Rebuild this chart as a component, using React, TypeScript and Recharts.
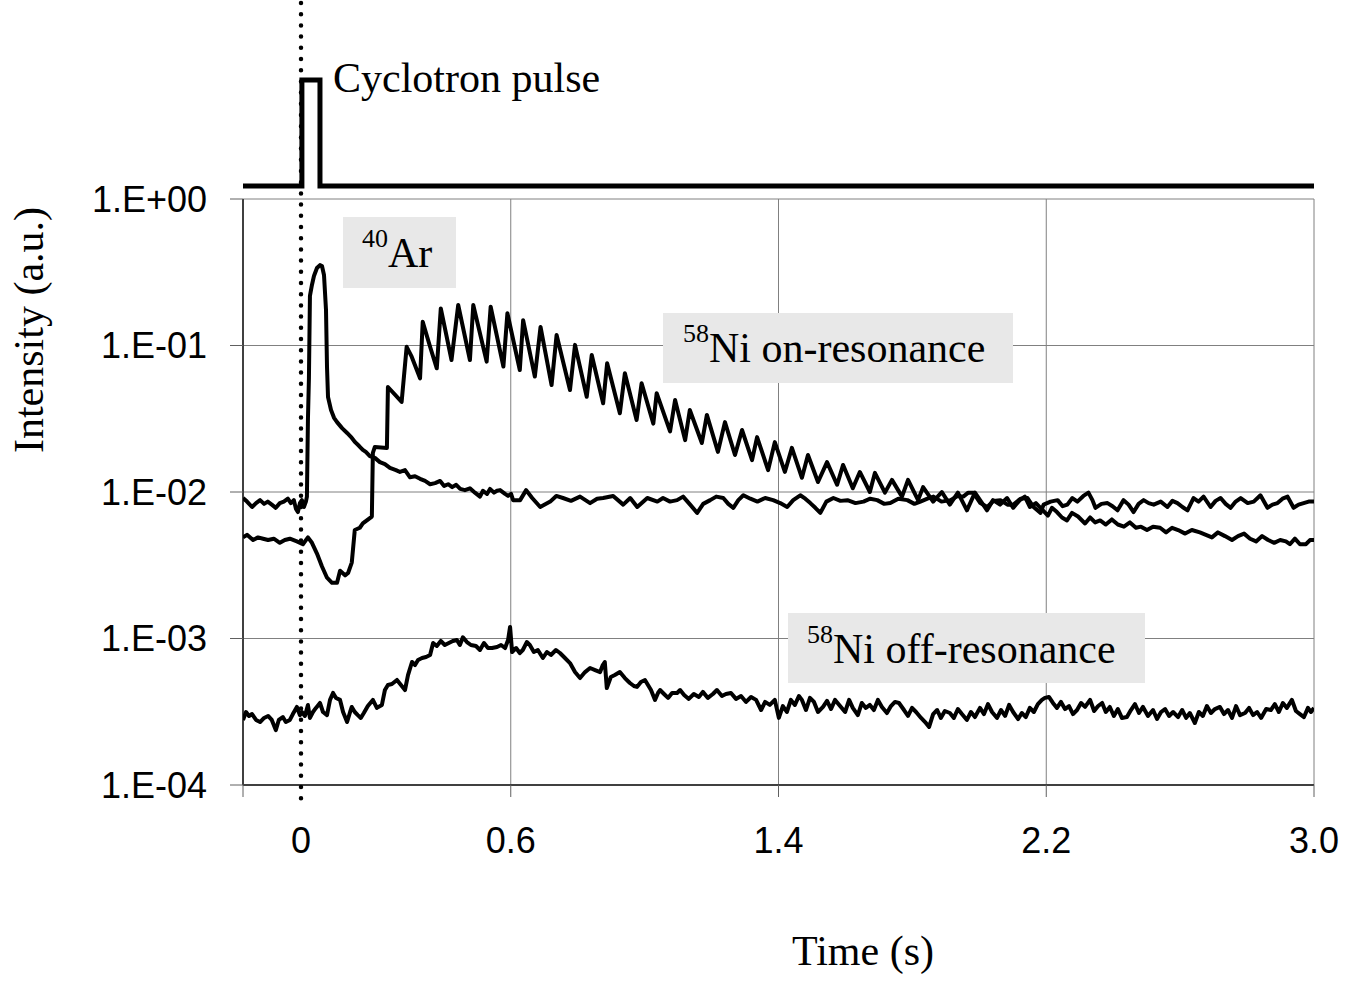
import React from 'react';
import { LineChart, Line, XAxis, YAxis, ReferenceLine } from 'recharts';

// time (s), intensity (a.u.)
const cyclotronPulse: [number, number][] = [
  [-0.2, 1.227], [-0.024, 1.227], [-0.024, 6.49], [0.03, 6.49], [0.03, 1.227], [3.0, 1.227],
];

const argon40: [number, number][] = [
  [-0.2, 0.0091], [-0.188, 0.0086], [-0.173, 0.0079], [-0.161, 0.0084], [-0.149, 0.0088], [-0.137, 0.0083],
  [-0.126, 0.0086], [-0.114, 0.0082], [-0.102, 0.0078], [-0.09, 0.0084], [-0.078, 0.0086], [-0.066, 0.009],
  [-0.057, 0.0084], [-0.048, 0.0088], [-0.042, 0.0077], [-0.036, 0.0073], [-0.03, 0.0084], [-0.024, 0.0088],
  [-0.018, 0.0079], [-0.012, 0.0086], [-0.009, 0.0093], [-0.006, 0.031], [-0.003, 0.06], [0.0, 0.218],
  [0.006, 0.259], [0.012, 0.298], [0.021, 0.338], [0.03, 0.354], [0.036, 0.349], [0.042, 0.303],
  [0.048, 0.175], [0.051, 0.0713], [0.054, 0.0445], [0.063, 0.0363], [0.072, 0.0321], [0.081, 0.03],
  [0.096, 0.0273], [0.111, 0.0253], [0.123, 0.0237], [0.135, 0.0219], [0.147, 0.0206], [0.158, 0.0194],
  [0.167, 0.0188], [0.179, 0.0176], [0.194, 0.0171], [0.209, 0.016], [0.224, 0.0155], [0.239, 0.0146],
  [0.257, 0.0141], [0.269, 0.0137], [0.284, 0.0141], [0.299, 0.0126], [0.314, 0.0128], [0.329, 0.0123],
  [0.344, 0.0119], [0.359, 0.0113], [0.374, 0.0115], [0.389, 0.0119], [0.401, 0.011], [0.413, 0.0113],
  [0.425, 0.0108], [0.437, 0.0112], [0.449, 0.0105], [0.463, 0.0103], [0.478, 0.0106], [0.493, 0.0099],
  [0.508, 0.0093], [0.517, 0.0102], [0.529, 0.0097], [0.538, 0.0105], [0.55, 0.0099], [0.559, 0.0102],
  [0.568, 0.0103], [0.583, 0.0097], [0.592, 0.0094], [0.601, 0.0097], [0.607, 0.0088], [0.628, 0.0088],
  [0.646, 0.0103], [0.664, 0.0091], [0.688, 0.0079], [0.718, 0.0086], [0.736, 0.0094], [0.756, 0.0091],
  [0.78, 0.0087], [0.807, 0.0093], [0.837, 0.0084], [0.858, 0.009], [0.876, 0.0091], [0.906, 0.0094],
  [0.936, 0.0082], [0.957, 0.0091], [0.978, 0.0079], [1.008, 0.0091], [1.038, 0.0086], [1.055, 0.0091],
  [1.076, 0.0086], [1.097, 0.0088], [1.115, 0.0093], [1.136, 0.0082], [1.157, 0.0072], [1.175, 0.0083],
  [1.196, 0.0088], [1.214, 0.0093], [1.235, 0.0091], [1.25, 0.0083], [1.265, 0.0078], [1.28, 0.0088],
  [1.295, 0.0095], [1.316, 0.009], [1.337, 0.0086], [1.36, 0.0091], [1.384, 0.0088], [1.405, 0.0084],
  [1.426, 0.0079], [1.444, 0.0088], [1.465, 0.0095], [1.48, 0.009], [1.495, 0.0084], [1.51, 0.0078],
  [1.525, 0.0072], [1.543, 0.0086], [1.564, 0.0091], [1.585, 0.0087], [1.606, 0.0088], [1.63, 0.0084],
  [1.654, 0.0086], [1.674, 0.009], [1.695, 0.0088], [1.716, 0.0083], [1.734, 0.0084], [1.758, 0.009],
  [1.785, 0.0088], [1.806, 0.0083], [1.824, 0.0086], [1.845, 0.009], [1.863, 0.0093], [1.887, 0.0086],
  [1.914, 0.0088], [1.935, 0.0094], [1.952, 0.0093], [1.967, 0.0099], [1.982, 0.0099], [2.003, 0.0084],
  [2.024, 0.0079], [2.042, 0.0087], [2.063, 0.0088], [2.084, 0.0082], [2.102, 0.0082], [2.123, 0.009],
  [2.144, 0.0091], [2.162, 0.0079], [2.183, 0.0072], [2.192, 0.0082], [2.213, 0.0086], [2.234, 0.0088],
  [2.249, 0.008], [2.263, 0.0082], [2.278, 0.0091], [2.293, 0.0086], [2.311, 0.0094], [2.326, 0.0099],
  [2.338, 0.0088], [2.347, 0.0078], [2.365, 0.0083], [2.383, 0.0084], [2.398, 0.008], [2.413, 0.0075],
  [2.431, 0.0088], [2.446, 0.0082], [2.461, 0.0073], [2.476, 0.0083], [2.491, 0.0088], [2.506, 0.0084],
  [2.521, 0.0082], [2.542, 0.0086], [2.562, 0.0079], [2.577, 0.0087], [2.592, 0.0084], [2.607, 0.0079],
  [2.622, 0.0075], [2.64, 0.0091], [2.655, 0.0086], [2.67, 0.0093], [2.691, 0.0079], [2.706, 0.0087],
  [2.721, 0.0091], [2.736, 0.0083], [2.751, 0.0078], [2.766, 0.0086], [2.781, 0.0091], [2.802, 0.0084],
  [2.82, 0.0086], [2.84, 0.0095], [2.861, 0.0078], [2.876, 0.0082], [2.891, 0.0084], [2.906, 0.009],
  [2.921, 0.0093], [2.939, 0.0078], [2.954, 0.0082], [2.969, 0.0084], [2.984, 0.0086], [3.0, 0.0086],
];

const nickelOnResonance: [number, number][] = [
  [-0.2, 0.0049], [-0.188, 0.0051], [-0.17, 0.0047], [-0.155, 0.0049], [-0.14, 0.0048], [-0.125, 0.0047],
  [-0.108, 0.0048], [-0.09, 0.0045], [-0.075, 0.0047], [-0.06, 0.0048], [-0.039, 0.0046], [-0.021, 0.0044],
  [-0.006, 0.0049], [0.006, 0.0045], [0.021, 0.0038], [0.036, 0.0031], [0.051, 0.0026], [0.066, 0.0024],
  [0.081, 0.0024], [0.09, 0.0029], [0.105, 0.0027], [0.114, 0.0028], [0.125, 0.0033], [0.134, 0.0055],
  [0.149, 0.0057], [0.158, 0.0061], [0.185, 0.0068], [0.188, 0.0185], [0.194, 0.0203], [0.23, 0.02],
  [0.233, 0.0521], [0.274, 0.0412], [0.289, 0.098], [0.304, 0.0839], [0.329, 0.0597], [0.337, 0.145],
  [0.359, 0.098], [0.379, 0.0699], [0.391, 0.179], [0.423, 0.0796], [0.443, 0.189], [0.478, 0.0796],
  [0.488, 0.189], [0.528, 0.0776], [0.54, 0.184], [0.578, 0.0718], [0.59, 0.166], [0.627, 0.068],
  [0.637, 0.149], [0.672, 0.0614], [0.689, 0.134], [0.722, 0.0537], [0.737, 0.118], [0.777, 0.0497],
  [0.792, 0.101], [0.827, 0.0447], [0.842, 0.0861], [0.876, 0.0403], [0.888, 0.0757], [0.926, 0.0345],
  [0.941, 0.0647], [0.976, 0.031], [0.991, 0.0553], [1.026, 0.0293], [1.036, 0.0473], [1.076, 0.0259],
  [1.091, 0.0425], [1.121, 0.0226], [1.135, 0.0363], [1.171, 0.0216], [1.186, 0.0336], [1.219, 0.0188],
  [1.24, 0.03], [1.27, 0.0179], [1.291, 0.0265], [1.321, 0.0165], [1.336, 0.0237], [1.369, 0.0141],
  [1.389, 0.0219], [1.419, 0.0137], [1.44, 0.02], [1.47, 0.0125], [1.488, 0.0179], [1.518, 0.0117],
  [1.545, 0.016], [1.575, 0.0112], [1.593, 0.0153], [1.622, 0.0106], [1.643, 0.0137], [1.673, 0.01],
  [1.688, 0.0135], [1.718, 0.0099], [1.739, 0.0121], [1.769, 0.0093], [1.787, 0.0121], [1.817, 0.0088],
  [1.832, 0.0108], [1.862, 0.0086], [1.888, 0.01], [1.912, 0.0082], [1.936, 0.0099], [1.963, 0.0075],
  [1.987, 0.0099], [2.023, 0.0075], [2.041, 0.0088], [2.062, 0.0082], [2.083, 0.0091], [2.101, 0.0078],
  [2.121, 0.0088], [2.136, 0.0093], [2.151, 0.0079], [2.169, 0.0084], [2.19, 0.0075], [2.205, 0.0069],
  [2.217, 0.0078], [2.232, 0.0073], [2.247, 0.0067], [2.262, 0.0064], [2.277, 0.0072], [2.295, 0.0068],
  [2.316, 0.0061], [2.331, 0.0067], [2.346, 0.0062], [2.361, 0.0064], [2.378, 0.006], [2.396, 0.0065],
  [2.414, 0.006], [2.432, 0.0058], [2.45, 0.0062], [2.468, 0.0057], [2.483, 0.0058], [2.501, 0.0055],
  [2.519, 0.0058], [2.54, 0.0057], [2.558, 0.0053], [2.576, 0.0057], [2.594, 0.0055], [2.615, 0.0052],
  [2.635, 0.0055], [2.659, 0.0053], [2.677, 0.0051], [2.695, 0.0049], [2.713, 0.0053], [2.734, 0.005],
  [2.755, 0.0047], [2.773, 0.005], [2.791, 0.0052], [2.809, 0.0048], [2.827, 0.0046], [2.845, 0.005],
  [2.863, 0.0047], [2.881, 0.0045], [2.899, 0.0047], [2.916, 0.0046], [2.928, 0.0044], [2.943, 0.0048],
  [2.958, 0.0044], [2.976, 0.0044], [2.988, 0.0047], [3.0, 0.0047],
];

const nickelOffResonance: [number, number][] = [
  [-0.2, 2.78e-4], [-0.191, 3.15e-4], [-0.182, 2.96e-4], [-0.173, 3.05e-4], [-0.161, 2.78e-4], [-0.149, 2.69e-4],
  [-0.137, 2.87e-4], [-0.125, 2.96e-4], [-0.114, 2.78e-4], [-0.102, 2.37e-4], [-0.093, 2.78e-4], [-0.081, 2.91e-4],
  [-0.072, 2.69e-4], [-0.06, 2.78e-4], [-0.051, 3.05e-4], [-0.039, 3.41e-4], [-0.03, 3.0e-4], [-0.024, 3.15e-4],
  [-0.015, 2.96e-4], [-0.006, 3.52e-4], [0.0, 2.87e-4], [0.009, 3.15e-4], [0.018, 3.36e-4], [0.03, 3.63e-4],
  [0.039, 3.15e-4], [0.051, 3.0e-4], [0.06, 3.81e-4], [0.069, 4.25e-4], [0.078, 3.93e-4], [0.09, 3.81e-4],
  [0.099, 3.15e-4], [0.111, 2.69e-4], [0.12, 3.15e-4], [0.125, 3.41e-4], [0.134, 3.15e-4], [0.143, 3.0e-4],
  [0.152, 2.87e-4], [0.161, 3.1e-4], [0.173, 3.46e-4], [0.188, 3.81e-4], [0.2, 3.36e-4], [0.215, 3.52e-4],
  [0.224, 4.45e-4], [0.233, 4.82e-4], [0.245, 4.89e-4], [0.26, 5.21e-4], [0.272, 4.82e-4], [0.284, 4.45e-4],
  [0.293, 5.63e-4], [0.305, 6.91e-4], [0.314, 6.59e-4], [0.323, 7.13e-4], [0.335, 7.36e-4], [0.347, 7.48e-4],
  [0.359, 7.72e-4], [0.368, 9.32e-4], [0.379, 8.89e-4], [0.391, 9.62e-4], [0.403, 9.03e-4], [0.415, 9.32e-4],
  [0.427, 9.62e-4], [0.439, 9.77e-4], [0.448, 9.03e-4], [0.457, 1.02e-3], [0.469, 9.46e-4], [0.481, 9.03e-4],
  [0.496, 8.89e-4], [0.508, 8.35e-4], [0.52, 9.32e-4], [0.532, 8.61e-4], [0.544, 8.61e-4], [0.559, 8.75e-4],
  [0.571, 9.03e-4], [0.583, 8.61e-4], [0.592, 9.77e-4], [0.598, 1.2e-3], [0.604, 8.09e-4], [0.616, 8.61e-4],
  [0.627, 7.96e-4], [0.636, 8.35e-4], [0.648, 9.46e-4], [0.657, 9.03e-4], [0.669, 8.09e-4], [0.681, 8.35e-4],
  [0.696, 7.36e-4], [0.708, 8.09e-4], [0.72, 7.72e-4], [0.735, 8.35e-4], [0.747, 7.96e-4], [0.762, 7.36e-4],
  [0.777, 6.8e-4], [0.792, 5.9e-4], [0.807, 5.37e-4], [0.822, 5.9e-4], [0.837, 6.29e-4], [0.852, 6.09e-4],
  [0.867, 5.9e-4], [0.875, 6.59e-4], [0.881, 6.91e-4], [0.887, 4.59e-4], [0.899, 5.46e-4], [0.911, 5.63e-4],
  [0.926, 5.9e-4], [0.941, 5.37e-4], [0.956, 4.97e-4], [0.968, 4.74e-4], [0.977, 4.67e-4], [0.989, 5.05e-4],
  [1.001, 5.21e-4], [1.01, 4.82e-4], [1.019, 4.45e-4], [1.031, 3.81e-4], [1.04, 4.25e-4], [1.046, 4.45e-4],
  [1.058, 4.18e-4], [1.07, 3.93e-4], [1.082, 4.25e-4], [1.097, 4.25e-4], [1.106, 4.45e-4], [1.118, 4.12e-4],
  [1.132, 3.87e-4], [1.147, 4.18e-4], [1.162, 3.99e-4], [1.174, 4.32e-4], [1.189, 3.93e-4], [1.204, 4.18e-4],
  [1.216, 4.45e-4], [1.231, 4.05e-4], [1.243, 4.18e-4], [1.258, 4.25e-4], [1.273, 3.87e-4], [1.288, 4.05e-4],
  [1.303, 3.69e-4], [1.318, 3.99e-4], [1.333, 3.81e-4], [1.348, 3.25e-4], [1.36, 3.69e-4], [1.374, 3.52e-4],
  [1.389, 3.81e-4], [1.401, 2.87e-4], [1.413, 3.46e-4], [1.425, 3.15e-4], [1.437, 3.81e-4], [1.449, 3.52e-4],
  [1.461, 4.05e-4], [1.47, 3.81e-4], [1.482, 3.25e-4], [1.494, 3.93e-4], [1.506, 3.69e-4], [1.518, 3.15e-4],
  [1.533, 3.41e-4], [1.545, 3.75e-4], [1.557, 3.3e-4], [1.569, 3.81e-4], [1.584, 3.46e-4], [1.599, 3.15e-4],
  [1.611, 3.81e-4], [1.622, 3.36e-4], [1.637, 3.0e-4], [1.649, 3.63e-4], [1.661, 3.36e-4], [1.673, 3.52e-4],
  [1.685, 3.25e-4], [1.697, 3.81e-4], [1.709, 3.41e-4], [1.724, 3.1e-4], [1.736, 3.46e-4], [1.748, 3.69e-4],
  [1.76, 3.63e-4], [1.775, 3.25e-4], [1.787, 2.96e-4], [1.799, 3.36e-4], [1.811, 3.15e-4], [1.826, 2.87e-4],
  [1.838, 2.69e-4], [1.85, 2.49e-4], [1.862, 3.05e-4], [1.874, 3.25e-4], [1.885, 2.87e-4], [1.897, 3.2e-4],
  [1.912, 3.1e-4], [1.924, 2.87e-4], [1.936, 3.3e-4], [1.948, 3.05e-4], [1.963, 2.78e-4], [1.975, 3.15e-4],
  [1.987, 2.91e-4], [2.002, 3.36e-4], [2.014, 3.05e-4], [2.026, 3.57e-4], [2.038, 3.15e-4], [2.053, 2.87e-4],
  [2.065, 3.25e-4], [2.077, 2.96e-4], [2.089, 3.52e-4], [2.101, 3.15e-4], [2.116, 2.82e-4], [2.127, 3.1e-4],
  [2.139, 2.91e-4], [2.151, 3.36e-4], [2.163, 3.15e-4], [2.175, 3.57e-4], [2.187, 3.81e-4], [2.196, 3.93e-4],
  [2.208, 3.99e-4], [2.22, 3.63e-4], [2.232, 3.36e-4], [2.244, 3.69e-4], [2.256, 3.3e-4], [2.268, 3.46e-4],
  [2.28, 3.05e-4], [2.292, 3.25e-4], [2.304, 3.63e-4], [2.316, 3.41e-4], [2.331, 3.81e-4], [2.343, 3.2e-4],
  [2.355, 3.46e-4], [2.367, 3.63e-4], [2.378, 3.15e-4], [2.39, 3.41e-4], [2.402, 2.96e-4], [2.414, 3.3e-4],
  [2.426, 2.87e-4], [2.441, 2.91e-4], [2.453, 3.25e-4], [2.465, 3.57e-4], [2.477, 3.1e-4], [2.489, 3.41e-4],
  [2.504, 2.96e-4], [2.519, 3.25e-4], [2.531, 2.82e-4], [2.543, 3.15e-4], [2.555, 3.3e-4], [2.567, 2.96e-4],
  [2.579, 3.15e-4], [2.594, 2.91e-4], [2.606, 3.25e-4], [2.618, 2.87e-4], [2.629, 3.1e-4], [2.644, 2.65e-4],
  [2.656, 3.15e-4], [2.668, 2.96e-4], [2.68, 3.46e-4], [2.692, 3.1e-4], [2.704, 3.3e-4], [2.719, 3.41e-4],
  [2.731, 3.05e-4], [2.743, 3.25e-4], [2.755, 2.87e-4], [2.767, 3.46e-4], [2.779, 3.0e-4], [2.794, 3.1e-4],
  [2.806, 3.36e-4], [2.818, 3.0e-4], [2.83, 3.15e-4], [2.842, 2.87e-4], [2.857, 3.3e-4], [2.871, 3.25e-4],
  [2.883, 3.57e-4], [2.895, 3.15e-4], [2.907, 3.63e-4], [2.919, 3.36e-4], [2.934, 3.81e-4], [2.946, 3.2e-4],
  [2.958, 3.05e-4], [2.97, 2.91e-4], [2.982, 3.36e-4], [2.991, 3.15e-4], [3.0, 3.36e-4],
];

const xTicks = [-0.2, 0.6, 1.4, 2.2, 3.0];
const xGridLines = [0.6, 1.4, 2.2, 3.0];
const yTicks = [1e-4, 1e-3, 1e-2, 1e-1, 1];

const toRows = (pts: [number, number][]) => pts.map(([t, v]) => ({ t, v }));

const SANS = '"Liberation Sans", Arial, sans-serif';
const SERIF = '"Liberation Serif", "Times New Roman", serif';
const GRID = '#808080';
const AXIS = '#404040';

const fmtY = (v: number) => {
  const e = Math.round(Math.log10(v));
  return `1.E${e >= 0 ? '+' : '-'}${String(Math.abs(e)).padStart(2, '0')}`;
};

export default function App() {
  return (
    <div style={{ position: 'absolute', left: 0, top: 0, width: 1354, height: 982, background: '#fff' }}>
      <LineChart width={1354} height={982} margin={{ top: 60, right: 40, bottom: 97, left: 0 }}>
        <XAxis
          type="number"
          dataKey="t"
          domain={[-0.2, 3.0]}
          allowDataOverflow
          ticks={xTicks}
          interval={0}
          height={100}
          tickSize={12}
          tickMargin={30}
          tickFormatter={(v: number) => (v < 0 ? '' : v.toFixed(1))}
          axisLine={{ stroke: AXIS, strokeWidth: 2 }}
          tickLine={{ stroke: '#606060' }}
          tick={{ fontSize: 36, fill: '#000', fontFamily: SANS }}
        />
        <YAxis
          type="number"
          scale="log"
          domain={[1e-4, 8.89]}
          allowDataOverflow
          ticks={yTicks}
          interval={0}
          width={243}
          tickSize={13}
          tickMargin={23}
          tickFormatter={fmtY}
          axisLine={false}
          tickLine={{ stroke: '#606060' }}
          tick={{ fontSize: 36, fill: '#000', fontFamily: SANS }}
        />
        {yTicks.slice(1).map((y) => (
          <ReferenceLine key={`h${y}`} y={y} stroke={GRID} strokeWidth={1} />
        ))}
        {xGridLines.map((x) => (
          <ReferenceLine key={`v${x}`} segment={[{ x, y: 1e-4 }, { x, y: 1 }]} stroke={GRID} strokeWidth={1} />
        ))}
        <ReferenceLine segment={[{ x: -0.2, y: 1e-4 }, { x: -0.2, y: 1 }]} stroke={AXIS} strokeWidth={2} />

        <Line data={toRows(nickelOffResonance)} dataKey="v" type="linear" dot={false} stroke="#000" strokeWidth={4} strokeLinejoin="round" isAnimationActive={false} />
        <Line data={toRows(nickelOnResonance)} dataKey="v" type="linear" dot={false} stroke="#000" strokeWidth={4} strokeLinejoin="round" isAnimationActive={false} />
        <Line data={toRows(argon40)} dataKey="v" type="linear" dot={false} stroke="#000" strokeWidth={4} strokeLinejoin="round" isAnimationActive={false} />
        <Line data={toRows(cyclotronPulse)} dataKey="v" type="linear" dot={false} stroke="#000" strokeWidth={5} strokeLinejoin="miter" isAnimationActive={false} />
      </LineChart>

      <svg width={1354} height={982} style={{ position: 'absolute', left: 0, top: 0, pointerEvents: 'none' }}>
        {/* time-zero marker */}
        <line x1={301} y1={3} x2={301} y2={800} stroke="#000" strokeWidth={4.5} strokeDasharray="0 11.2" strokeLinecap="round" />
        <text x={301} y={853} textAnchor="middle" fontSize={36} fontFamily={SANS} fill="#000">0</text>

        <text x={333} y={92} fontSize={42} fontFamily={SERIF} fill="#000">Cyclotron pulse</text>

        <rect x={343} y={217} width={113} height={71} fill="#e8e8e8" />
        <text x={362} y={267} fontFamily={SERIF} fill="#000">
          <tspan fontSize={26} dy={-20}>40</tspan>
          <tspan fontSize={42} dy={20}>Ar</tspan>
        </text>

        <rect x={663} y={313} width={350} height={70} fill="#e8e8e8" />
        <text x={683} y={362} fontFamily={SERIF} fill="#000">
          <tspan fontSize={26} dy={-20}>58</tspan>
          <tspan fontSize={42} dy={20}>Ni on-resonance</tspan>
        </text>

        <rect x={788} y={613} width={357} height={70} fill="#e8e8e8" />
        <text x={807} y={663} fontFamily={SERIF} fill="#000">
          <tspan fontSize={26} dy={-20}>58</tspan>
          <tspan fontSize={42} dy={20}>Ni off-resonance</tspan>
        </text>

        <text transform="translate(43, 330) rotate(-90)" textAnchor="middle" fontSize={42} fontFamily={SERIF} fill="#000">
          Intensity (a.u.)
        </text>
        <text x={863} y={965} textAnchor="middle" fontSize={42} fontFamily={SERIF} fill="#000">Time (s)</text>
      </svg>
    </div>
  );
}
